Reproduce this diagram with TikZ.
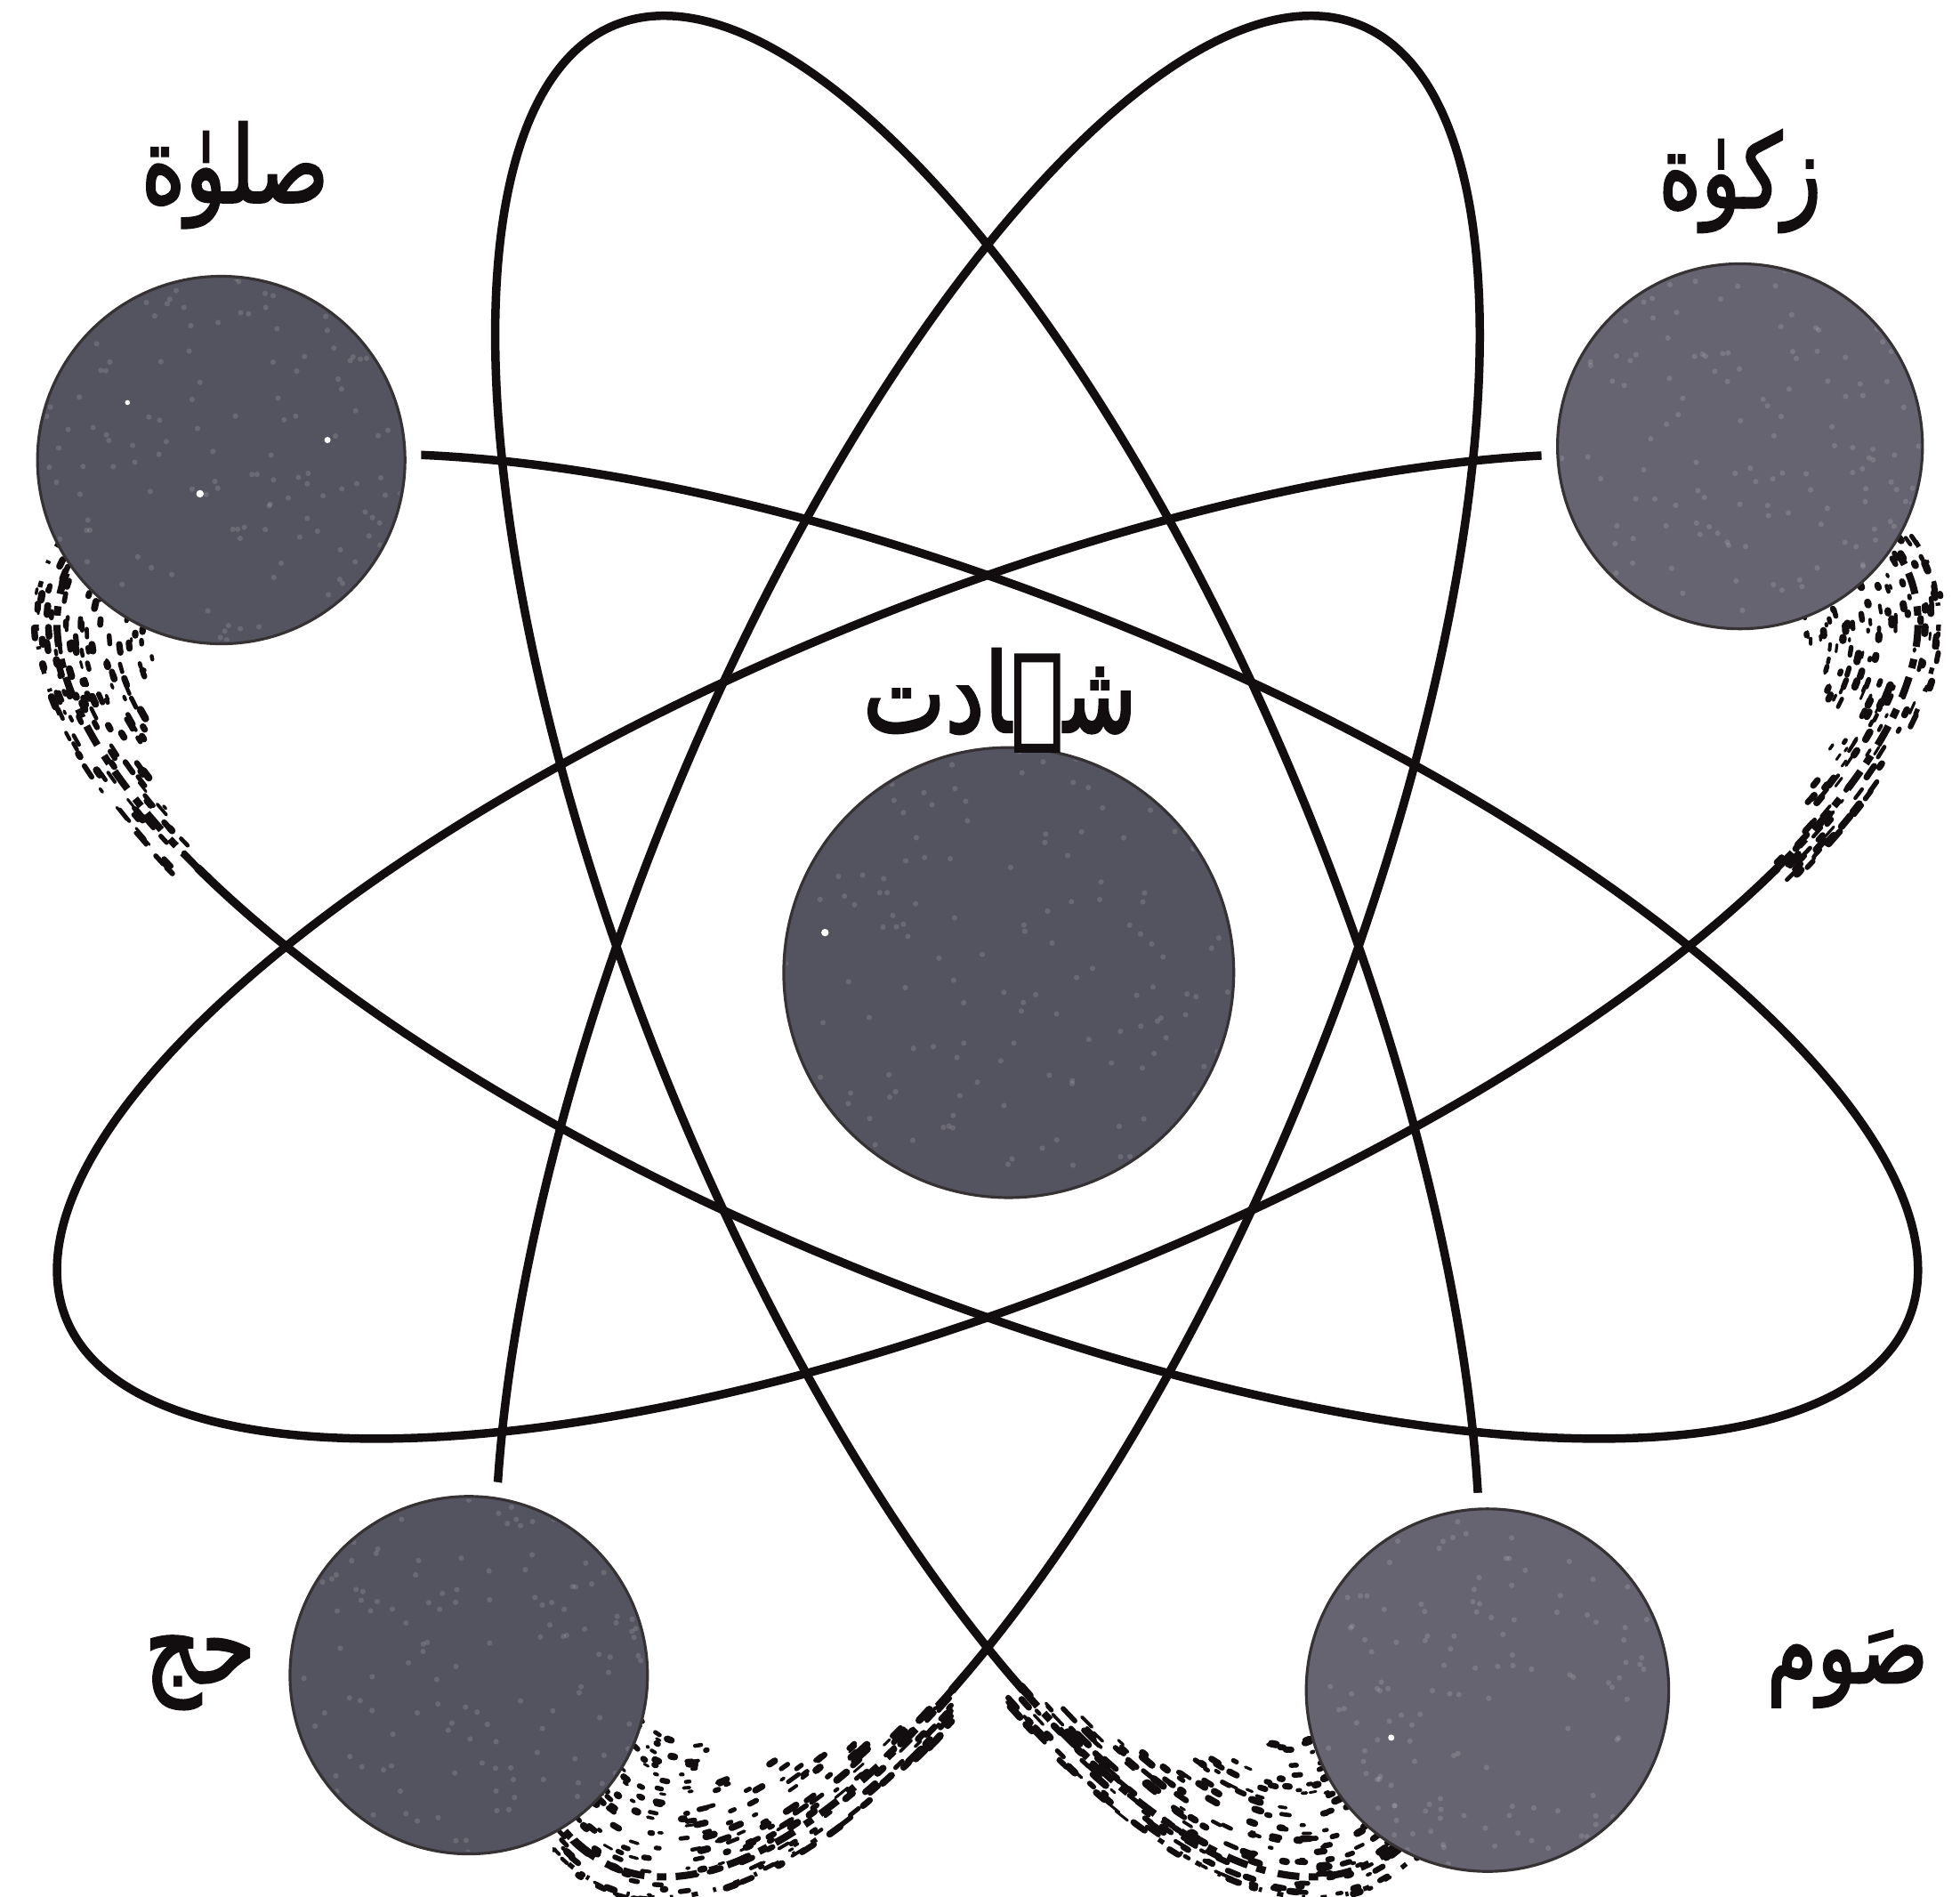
\documentclass[tikz,border=0pt]{standalone}
\usepackage{fontspec}
\usepackage{graphicx}
\usetikzlibrary{calc}
\newfontfamily\urdu[Script=Arabic, FakeBold=2.5]{DejaVu Sans}
\TeXXeTstate=1
\definecolor{ink}{RGB}{18,14,16}
\definecolor{ballcol}{RGB}{84,83,96}
\definecolor{ballcolL}{RGB}{102,100,113}
\tikzset{
  orbit/.style={draw=ink, line width=2.7pt, line cap=round},
  ball/.style={fill=ballcol, draw=ink!85, line width=0.9pt},
  ballL/.style={fill=ballcolL, draw=ink!85, line width=0.9pt},
  halo/.style={fill=white},
  sa/.style={draw=ink, line width=1.5pt, dash pattern=on 2pt off 6pt on 1pt off 5pt},
  sb/.style={draw=ink, line width=2.3pt, dash pattern=on 7pt off 3pt on 3pt off 4pt},
  lbl/.style={inner sep=0pt, text=ink}
}
\newcommand\urdutext[2]{{\urdu\fontsize{#1}{#1}\selectfont\scalebox{1}[1.25]{\beginR #2\endR}}}
\newcommand\orbitarc[3]{%
  \begin{scope}[shift={(790,757)}, rotate=-#1]
    \draw[orbit] plot[domain=#2:#3, samples=160, smooth, variable=\t] ({795*cos(\t)},{278*sin(\t)});
  \end{scope}}
% stippled shadow band: #1 angle, #2 parameter where the solid line ends, #3 parameter at the sphere
\newcommand\speckband[3]{%
  \begin{scope}[shift={(790,757)}, rotate=-#1]
    \draw[sb] plot[domain=#2:#3, samples=60, smooth, variable=\t] ({795*cos(\t)},{278*sin(\t)});
    \draw[sa] plot[domain=#2+(#3-#2)*0.3:#3, samples=60, smooth, variable=\t] ({812*cos(\t)},{295*sin(\t)});
    \foreach \k in {1,...,260}{%
      \pgfmathsetmacro\sU{rnd}%
      \pgfmathsetmacro\sT{#2+(#3-#2)*\sU}%
      \pgfmathsetmacro\sDep{22+110*min(1,1.5*\sU)}%
      \pgfmathsetmacro\sD{20-\sDep*pow(rnd,1.3)}%
      \pgfmathsetmacro\sL{0.3+1.2*rnd}%
      \pgfmathsetmacro\sW{0.8+1.6*rnd}%
      \draw[ink, line width=\sW pt, line cap=round] ({(795+\sD)*cos(\sT)},{(278+\sD)*sin(\sT)}) -- ({(795+\sD)*cos(\sT+\sL)},{(278+\sD)*sin(\sT+\sL)});
    }
  \end{scope}}
% sphere with a faint grain
\newcommand\sphere[4]{% #1 name, #2 centre, #3 radius, #4 style
  \coordinate (#1) at #2;
  \path[#4] (#1) circle[radius=#3];
  \begin{scope}
    \clip (#1) circle[radius=#3-2];
    \foreach \k in {1,...,160}{%
      \pgfmathsetmacro\gx{(2*rnd-1)*#3}%
      \pgfmathsetmacro\gy{(2*rnd-1)*#3}%
      \fill[white, opacity=0.13] ($(#1)+(\gx,\gy)$) circle[radius=2.2];
    }
  \end{scope}}
\begin{document}
\begin{tikzpicture}[x=0.01405cm, y=-0.01405cm]
\pgfmathsetseed{4711}
\useasboundingbox (0,0) rectangle (1568,1517);
\fill[white] (0,0) rectangle (1568,1517);

% orbits (solid parts)
\orbitarc{22}{195}{500}
\orbitarc{158}{-140}{165}
\orbitarc{68}{45}{355}
\orbitarc{112}{5}{315}

% white halos round the outer spheres
\fill[halo] (177,368) circle[radius=160];
\fill[halo] (1392,357) circle[radius=159];
\fill[halo] (375,1340) circle[radius=156];
\fill[halo] (1190,1352) circle[radius=158];

% stippled shadow bands
\speckband{22}{140}{203}
\speckband{158}{220}{157}
\speckband{68}{45}{-10}
\speckband{112}{-45}{10}

% spheres
\sphere{csalat}{(177,368)}{147}{ball}
\sphere{czakat}{(1392,357)}{146}{ballL}
\sphere{chajj}{(375,1340)}{143}{ball}
\sphere{csaum}{(1190,1352)}{145}{ballL}
\sphere{cshahadat}{(807,778)}{180}{ball}

% a few bright specks on the spheres
\fill[white] (160,395) circle[radius=3];
\fill[white] (262,352) circle[radius=2.5];
\fill[white] (102,322) circle[radius=2];
\fill[white] (660,746) circle[radius=3];
\fill[white] (1113,1390) circle[radius=2.5];

% labels
\node[lbl] (salat) at (188,140) {\urdutext{27}{صلوٰة}};
\node[lbl] (zakat) at (1392,145) {\urdutext{26}{زکوٰة}};
\node[lbl] (shahadat) at (800,560) {\urdutext{28}{شہادت}};
\node[lbl] (hajj) at (160,1338) {\urdutext{28}{حج}};
\node[lbl] (saum) at (1478,1335) {\urdutext{26}{صَوم}};
\end{tikzpicture}
\end{document}
